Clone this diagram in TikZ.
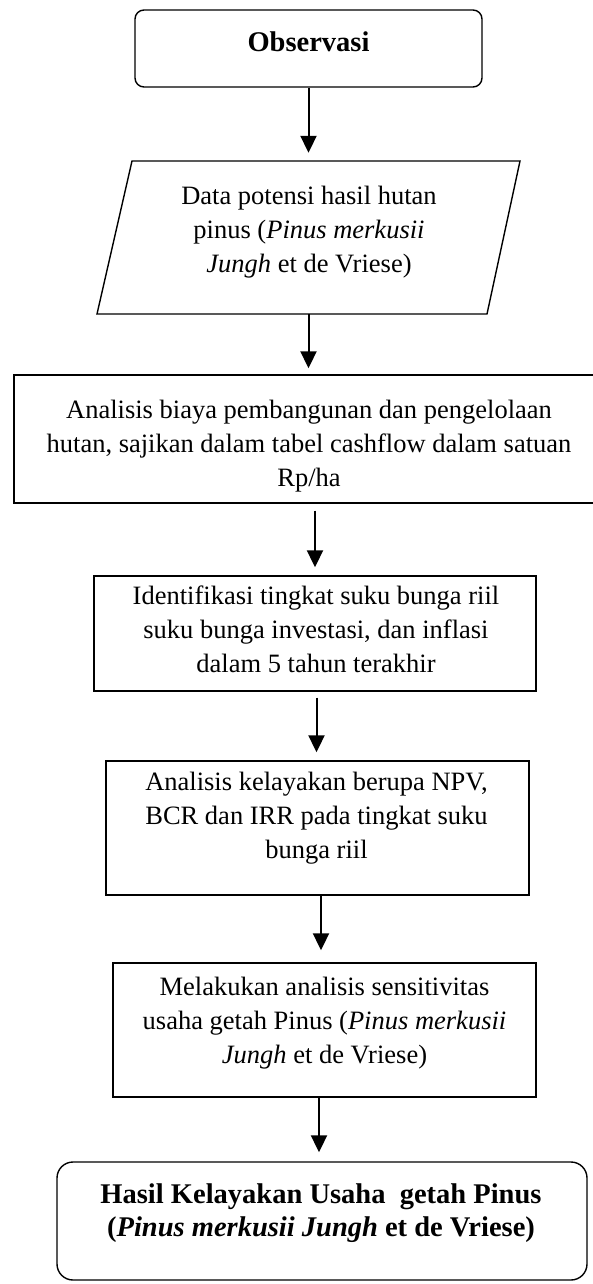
\documentclass[tikz,border=0pt]{standalone}
\usepackage{fontspec}
\setmainfont{Liberation Serif}
\usetikzlibrary{arrows.meta}
\tikzset{
  box/.style={draw, line width=1.4pt, inner sep=0pt},
  rbox/.style={box, rounded corners=9pt},
  txt/.style={align=center, inner sep=0pt, font=\fontsize{26.5}{34}\selectfont},
  btxt/.style={align=center, inner sep=0pt, font=\fontsize{28.5}{33.5}\selectfont\bfseries},
  arr/.style={line width=2pt, -{Triangle[length=17pt,width=16pt]}},
}
\begin{document}
\begin{tikzpicture}[x=1pt,y=-1pt]
\useasboundingbox (0,0) rectangle (593,1284);
\fill[white] (0,0) rectangle (593,1284);
\clip (0,0) rectangle (593,1284);

% boxes
\node[rbox, minimum width=347pt, minimum height=77pt] (b1) at (308.5,48.5) {};
\node[inner sep=0pt, minimum width=390pt, minimum height=153pt] (b2) at (308.5,237.5) {};
\draw[line width=1.4pt, line join=miter] (132,161) -- (520,161) -- (487,314) -- (97,314) -- cycle;
\node[box, minimum width=589pt, minimum height=128pt] (b3) at (308.5,439) {};
\node[box, minimum width=442pt, minimum height=115pt] (b4) at (315,633.5) {};
\node[box, minimum width=423pt, minimum height=134pt] (b5) at (317.5,828) {};
\node[box, minimum width=423pt, minimum height=134pt] (b6) at (324.5,1030) {};
\node[rbox, rounded corners=16pt, minimum width=530pt, minimum height=118pt] (b7) at (322,1221) {};

% texts
\node[btxt] (t1) at (308.5,42) {Observasi};
\node[txt] (t2) at (309,232) {Data potensi hasil hutan\\pinus (\textit{Pinus merkusii}\\\textit{Jungh} et de Vriese)};
\node[txt] (t3) at (309,446) {Analisis biaya pembangunan dan pengelolaan\\hutan, sajikan dalam tabel cashflow dalam satuan\\Rp/ha};
\node[txt] (t4) at (316,629) {Identifikasi tingkat suku bunga riil\\suku bunga investasi, dan inflasi\\dalam 5 tahun terakhir};
\node[txt] (t5) at (316.5,818) {Analisis kelayakan berupa NPV,\\BCR dan IRR pada tingkat suku\\bunga riil};
\node[txt] (t6) at (324.5,1023) {Melakukan analisis sensitivitas\\usaha getah Pinus (\textit{Pinus merkusii}\\\textit{Jungh} et de Vriese)};
\node[btxt] (t7) at (321,1213) {Hasil Kelayakan Usaha\ \ getah Pinus\\(\textit{Pinus merkusii Jungh} et de Vriese)};

% connectors
\draw[arr, shorten >=8pt] (b1.south) -- (b2.north);
\draw[arr, shorten >=6pt] (b2.south) -- (b3.north);
\draw[arr, shorten <=7pt, shorten >=8pt] ([xshift=6.5pt]b3.south) -- (b4.north);
\draw[arr, shorten <=6pt, shorten >=8pt] ([xshift=1.5pt]b4.south) -- ([xshift=-1pt]b5.north);
\draw[arr, shorten >=12pt] ([xshift=3.5pt]b5.south) -- ([xshift=-3.5pt]b6.north);
\draw[arr, shorten >=9pt] ([xshift=-5.5pt]b6.south) -- ([xshift=-3pt]b7.north);
\end{tikzpicture}
\end{document}
